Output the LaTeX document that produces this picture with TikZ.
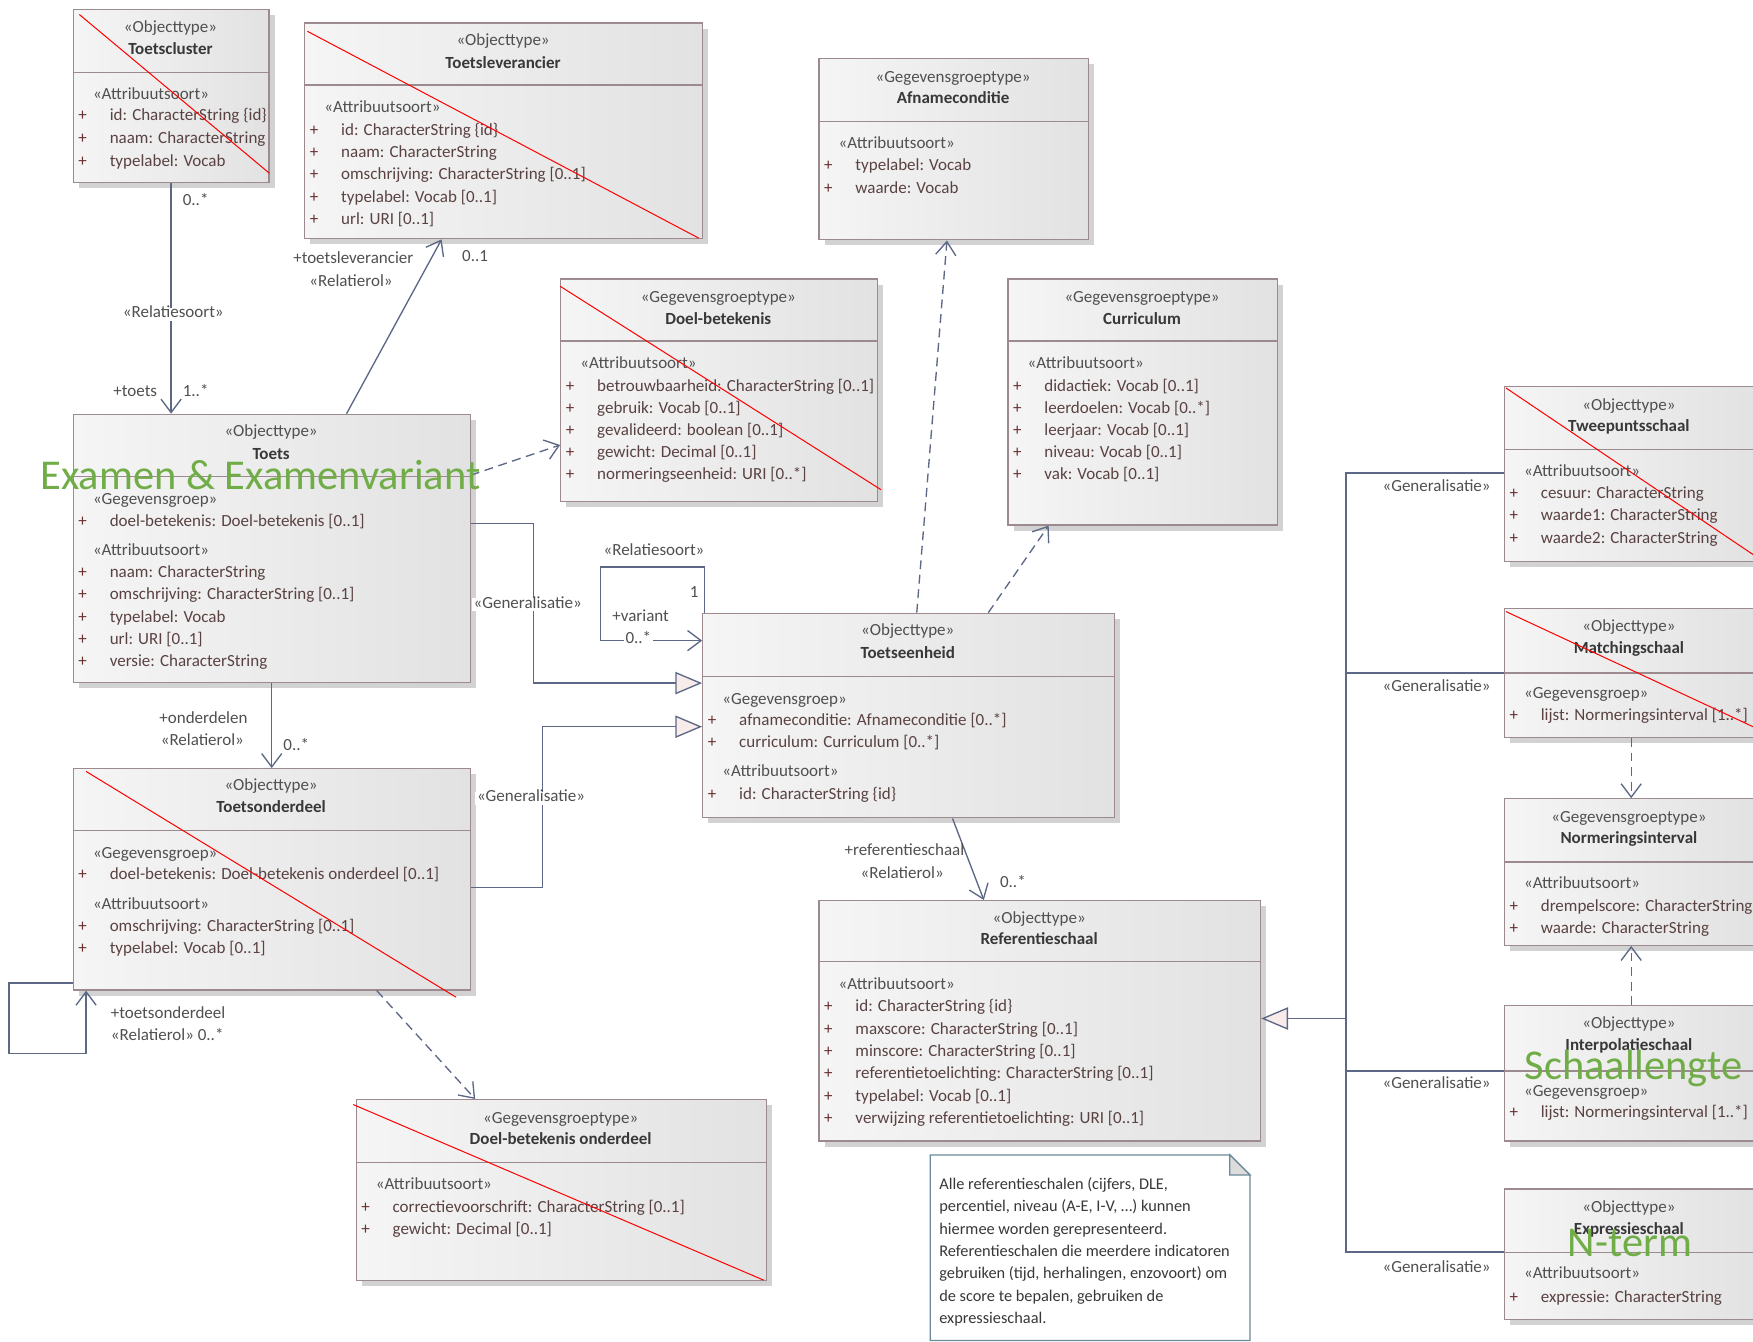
\documentclass[tikz,border=0pt]{standalone}
\usepackage{fontspec}
\setmainfont{Carlito}
\usetikzlibrary{arrows.meta,shadows,calc}
\definecolor{bord}{HTML}{9C8A8E}
\definecolor{boxL}{HTML}{F5F5F5}
\definecolor{boxR}{HTML}{E2E2E2}
\definecolor{shadowc}{HTML}{D2D2D2}
\definecolor{stc}{HTML}{505050}
\definecolor{ttc}{HTML}{383838}
\definecolor{atc}{HTML}{5A4242}
\definecolor{plc}{HTML}{6A2F2F}
\definecolor{conn}{HTML}{5C6886}
\definecolor{labc}{HTML}{505050}
\definecolor{grn}{HTML}{70AD47}
\definecolor{trif}{HTML}{F7ECE9}
\definecolor{notec}{HTML}{6B8A99}
\definecolor{foldc}{HTML}{DCDCDC}
\tikzset{
  umlbox/.style={draw=bord, line width=1.1pt, left color=boxL, right color=boxR,
    inner sep=0pt, anchor=north west,
    drop shadow={shadow xshift=5pt, shadow yshift=-5pt, fill=shadowc, opacity=1}},
  bordline/.style={draw=bord, line width=1.1pt},
  basefont/.style={font=\fontsize{15.2}{18}\selectfont, inner sep=0pt, text height=1.5ex, text depth=.3ex},
  st/.style={basefont, text=stc},
  tt/.style={basefont, text=ttc, font=\fontsize{15.2}{18}\selectfont\bfseries},
  ast/.style={basefont, text=stc, anchor=west},
  plus/.style={basefont, text=plc, anchor=west},
  attr/.style={basefont, text=atc, anchor=west},
  lab/.style={basefont, text=labc},
  wlab/.style={lab, fill=white, inner sep=1.5pt},
  cross/.style={draw=red, line width=0.9pt},
  grtext/.style={text=grn, font=\fontsize{38}{42}\selectfont, inner sep=0pt},
  conline/.style={draw=conn, line width=1.2pt},
  assoc/.style={conline, -{Straight Barb[length=12pt,width=18pt,line width=1.2pt]}},
  dep/.style={conline, dash pattern=on 8pt off 5pt, -{Straight Barb[length=12pt,width=18pt,line width=1.2pt]}},
  gen/.style={conline, -{Triangle[open,length=24pt,width=20pt,fill=trif,line width=1.2pt]}},
}
% box: name, x1, y1, x2, y2, ydiv
\newcommand{\umlbox}[6]{%
  \node[umlbox, minimum width={(#4-#2)*1pt}, minimum height={(#5-#3)*1pt}] (#1) at (#2,#3) {};
  \draw[bordline] (#2,#6) -- (#4,#6);}
% head: name, cx, ystereo, ytitle, stereotype, title
\newcommand{\umlhead}[6]{%
  \node[st] (#1-s) at (#2,#3) {«#5»};
  \node[tt] (#1-t) at (#2,#4) {#6};}
% compartment stereotype: name, xleft, y, text
\newcommand{\compst}[4]{\node[ast] (#1) at (#2+18,#3) {«#4»};}
% attributes: prefix, xleft, ystart, step, list
\newcommand{\attrlist}[5]{%
  \foreach \t [count=\i] in {#5} {
    \node[plus] (#1p\i) at (#2+5,{#3+(\i-1)*#4}) {+};
    \node[attr] (#1a\i) at (#2+33,{#3+(\i-1)*#4}) {\t};
  }}
\begin{document}
\begin{tikzpicture}[x=1pt,y=-1pt]
\useasboundingbox (0,0) rectangle (1568,1200);
\clip (0,0) rectangle (1568,1200);
\fill[white] (0,0) rectangle (1568,1200);

% ---------- boxes ----------
\umlbox{cluster}{65}{8}{240}{163}{65}
\umlhead{cluster}{152.5}{26}{46}{Objecttype}{Toetscluster}
\compst{cluster-c1}{65}{86}{Attribuutsoort}
\attrlist{cl}{65}{105}{20.5}{{id: CharacterString \{id\}},{naam: CharacterString},{typelabel: Vocab}}

\umlbox{lev}{272}{20}{628}{213}{76}
\umlhead{lev}{450}{38}{58}{Objecttype}{Toetsleverancier}
\compst{lev-c1}{272}{98}{Attribuutsoort}
\attrlist{lv}{272}{118}{20}{{id: CharacterString \{id\}},{naam: CharacterString},{omschrijving: CharacterString [0..1]},{typelabel: Vocab [0..1]},{url: URI [0..1]}}

\umlbox{afn}{732}{52}{973}{214}{109}
\umlhead{afn}{852.5}{71}{90}{Gegevensgroeptype}{Afnameconditie}
\compst{afn-c1}{732}{130}{Attribuutsoort}
\attrlist{af}{732}{150}{20}{{typelabel: Vocab},{waarde: Vocab}}

\umlbox{doel}{501}{249}{784}{448}{305}
\umlhead{doel}{642.5}{268}{287}{Gegevensgroeptype}{Doel-betekenis}
\compst{doel-c1}{501}{327}{Attribuutsoort}
\attrlist{db}{501}{347}{19.8}{{betrouwbaarheid: CharacterString [0..1]},{gebruik: Vocab [0..1]},{gevalideerd: boolean [0..1]},{gewicht: Decimal [0..1]},{normeringseenheid: URI [0..*]}}

\umlbox{curr}{901}{249}{1142}{469}{305}
\umlhead{curr}{1021.5}{268}{287}{Gegevensgroeptype}{Curriculum}
\compst{curr-c1}{901}{327}{Attribuutsoort}
\attrlist{cu}{901}{347}{19.8}{{didactiek: Vocab [0..1]},{leerdoelen: Vocab [0..*]},{leerjaar: Vocab [0..1]},{niveau: Vocab [0..1]},{vak: Vocab [0..1]}}

\umlbox{toets}{65}{370}{420}{610}{426}
\umlhead{toets}{242.5}{388}{408}{Objecttype}{Toets}
\compst{toets-c1}{65}{448}{Gegevensgroep}
\attrlist{tg}{65}{468}{20}{{doel-betekenis: Doel-betekenis [0..1]}}
\compst{toets-c2}{65}{494}{Attribuutsoort}
\attrlist{ta}{65}{514}{19.8}{{naam: CharacterString},{omschrijving: CharacterString [0..1]},{typelabel: Vocab},{url: URI [0..1]},{versie: CharacterString}}

\umlbox{onder}{65}{687}{420}{885}{743}
\umlhead{onder}{242.5}{704}{724}{Objecttype}{Toetsonderdeel}
\compst{onder-c1}{65}{765}{Gegevensgroep}
\attrlist{og}{65}{784}{20}{{doel-betekenis: Doel-betekenis onderdeel [0..1]}}
\compst{onder-c2}{65}{811}{Attribuutsoort}
\attrlist{oa}{65}{830}{20}{{omschrijving: CharacterString [0..1]},{typelabel: Vocab [0..1]}}

\umlbox{doelo}{318}{983}{685}{1145}{1040}
\umlhead{doelo}{501.5}{1002}{1021}{Gegevensgroeptype}{Doel-betekenis onderdeel}
\compst{doelo-c1}{318}{1061}{Attribuutsoort}
\attrlist{do}{318}{1082}{19.5}{{correctievoorschrift: CharacterString [0..1]},{gewicht: Decimal [0..1]}}

\umlbox{eenh}{628}{548}{996}{731}{605}
\umlhead{eenh}{812}{566}{586}{Objecttype}{Toetseenheid}
\compst{eenh-c1}{628}{627}{Gegevensgroep}
\attrlist{eg}{628}{646}{20}{{afnameconditie: Afnameconditie [0..*]},{curriculum: Curriculum [0..*]}}
\compst{eenh-c2}{628}{692}{Attribuutsoort}
\attrlist{ea}{628}{712}{20}{{id: CharacterString \{id\}}}

\umlbox{ref}{732}{805}{1127}{1020}{860}
\umlhead{ref}{929.5}{823}{842}{Objecttype}{Referentieschaal}
\compst{ref-c1}{732}{882}{Attribuutsoort}
\attrlist{rf}{732}{902}{20}{{id: CharacterString \{id\}},{maxscore: CharacterString [0..1]},{minscore: CharacterString [0..1]},{referentietoelichting: CharacterString [0..1]},{typelabel: Vocab [0..1]},{verwijzing referentietoelichting: URI [0..1]}}

\umlbox{twee}{1345}{345}{1572}{502}{402}
\umlhead{twee}{1457}{364}{383}{Objecttype}{Tweepuntsschaal}
\compst{twee-c1}{1345}{423}{Attribuutsoort}
\attrlist{tw}{1345}{443}{20}{{cesuur: CharacterString},{waarde1: CharacterString},{waarde2: CharacterString}}

\umlbox{match}{1345}{544}{1572}{659}{602}
\umlhead{match}{1457}{562}{582}{Objecttype}{Matchingschaal}
\compst{match-c1}{1345}{622}{Gegevensgroep}
\attrlist{ma}{1345}{642}{20}{{lijst: Normeringsinterval [1..*]}}

\umlbox{norm}{1345}{714}{1572}{845}{771}
\umlhead{norm}{1457}{733}{752}{Gegevensgroeptype}{Normeringsinterval}
\compst{norm-c1}{1345}{792}{Attribuutsoort}
\attrlist{no}{1345}{812}{20}{{drempelscore: CharacterString},{waarde: CharacterString}}

\umlbox{interp}{1345}{899}{1572}{1020}{958}
\umlhead{interp}{1457}{917}{937}{Objecttype}{Interpolatieschaal}
\compst{interp-c1}{1345}{978}{Gegevensgroep}
\attrlist{ip}{1345}{997}{20}{{lijst: Normeringsinterval [1..*]}}

\umlbox{expr}{1345}{1063}{1572}{1180}{1120}
\umlhead{expr}{1457}{1082}{1101}{Objecttype}{Expressieschaal}
\compst{expr-c1}{1345}{1141}{Attribuutsoort}
\attrlist{ex}{1345}{1162}{20}{{expressie: CharacterString}}

% ---------- note ----------
\filldraw[draw=notec, fill=white, line width=1.1pt] (832,1033) -- (1100,1033) -- (1118,1051) -- (1118,1199) -- (832,1199) -- cycle;
\filldraw[draw=notec, fill=foldc, line width=1.1pt] (1100,1033) -- (1100,1051) -- (1118,1051) -- cycle;
\node[anchor=north west, align=left, inner sep=0pt, text=ttc, font=\fontsize{14.6}{20}\selectfont] (note) at (840,1053)
 {Alle referentieschalen (cijfers, DLE,\\percentiel, niveau (A-E, I-V, \dots) kunnen\\hiermee worden gerepresenteerd.\\Referentieschalen die meerdere indicatoren\\gebruiken (tijd, herhalingen, enzovoort) om\\de score te bepalen, gebruiken de\\expressieschaal.};

% ---------- connectors ----------
% Toetscluster -> Toets
\draw[assoc] (cluster.south) -- (cluster.south |- toets.north);
\node[wlab] (l-rs1) at (155,281) {«Relatiesoort»};
\node[lab] (l-cl1) at (175,181) {0..*};
\node[lab] (l-cl2) at (121,352) {+toets};
\node[lab] (l-cl3) at (175,352) {1..*};
% Toets -> Toetsleverancier
\draw[assoc] ([xshift=245pt]toets.north west) -- ([xshift=123pt]lev.south west);
\node[lab] (l-lv1) at (316,233) {+toetsleverancier};
\node[lab] (l-lv2) at (314,253) {«Relatierol»};
\node[lab] (l-lv3) at (425,231) {0..1};
% Toets -> Doel-betekenis
\draw[dep] ([yshift=-55pt]toets.north east) -- ([yshift=-149pt]doel.north west);
% Toets -> Toetseenheid (generalisatie)
\draw[gen] ([yshift=-98pt]toets.north east) -- ++(56,0) |- ([yshift=-63pt]eenh.north west);
\node[wlab] (l-g1) at (472,541) {«Generalisatie»};
% Toetsonderdeel -> Toetseenheid (generalisatie)
\draw[gen] ([yshift=-107pt]onder.north east) -- ++(64,0) |- ([yshift=-102pt]eenh.north west);
\node[wlab] (l-g2) at (475,714) {«Generalisatie»};
% Toetseenheid variant loop
\draw[assoc] ([xshift=2pt]eenh.north west) -- ++(0,-41) -- ++(-93,0) -- ++(0,66) -- ([yshift=-25pt]eenh.north west);
\node[lab] (l-v1) at (585,494) {«Relatiesoort»};
\node[lab] (l-v2) at (621,532) {1};
\node[lab] (l-v3) at (573,553) {+variant};
\node[wlab] (l-v4) at (571,573) {0..*};
% Toets -> Toetsonderdeel
\draw[assoc] (toets.south) -- (onder.north);
\node[lab] (l-o1) at (182,644) {+onderdelen};
\node[lab] (l-o2) at (181,664) {«Relatierol»};
\node[lab] (l-o3) at (265,668) {0..*};
% Toetsonderdeel loop
\draw[assoc] ([yshift=7pt]onder.south west) -- ++(-57,0) -- ++(0,63) -- ++(69,0) -- ([xshift=12pt]onder.south west);
\node[lab, anchor=west] (l-t1) at (99,908) {+toetsonderdeel};
\node[lab, anchor=west] (l-t2) at (99,928) {«Relatierol» 0..*};
% Toetsonderdeel -> Doel-betekenis onderdeel
\draw[dep] ([xshift=272pt]onder.south west) -- ([xshift=107pt]doelo.north west);
% Toetseenheid -> Afnameconditie, Curriculum
\draw[dep] ([xshift=192pt]eenh.north west) -- ([xshift=115pt]afn.south west);
\draw[dep] ([xshift=256pt]eenh.north west) -- ([xshift=37pt]curr.south west);
% Toetseenheid -> Referentieschaal
\draw[assoc] ([xshift=224pt]eenh.south west) -- ([xshift=148pt]ref.north west);
\node[lab] (l-r1) at (809,762) {+referentieschaal};
\node[lab] (l-r2) at (807,783) {«Relatierol»};
\node[lab] (l-r3) at (906,791) {0..*};
% Generalisation tree to Referentieschaal
\draw[conline] ([yshift=-78pt]twee.north west) -| ([xshift=-141pt,yshift=-57pt]expr.north west) -- ([yshift=-57pt]expr.north west);
\draw[conline] ([yshift=-58pt]match.north west) -- ++(-141,0);
\draw[conline] ([yshift=-59pt]interp.north west) -- ++(-141,0);
\coordinate (gj) at (1204,911);
\draw[gen] (gj) -- (gj -| ref.east);
\node[lab] (l-gr1) at (1285,437) {«Generalisatie»};
\node[lab] (l-gr2) at (1285,616) {«Generalisatie»};
\node[lab] (l-gr3) at (1285,971) {«Generalisatie»};
\node[lab] (l-gr4) at (1285,1135) {«Generalisatie»};
% Normeringsinterval dependencies
\draw[dep] (match.south) -- (norm.north);
\draw[dep] (interp.north) -- (norm.south);

% ---------- red cross-outs ----------
\draw[cross] (71,13) -- (241,155);
\draw[cross] (275,28) -- (625,213);
\draw[cross] (501,256) -- (788,438);
\draw[cross] (77,690) -- (408,892);
\draw[cross] (316,988) -- (683,1145);
\draw[cross] (1347,347) -- (1568,496);
\draw[cross] (1347,547) -- (1568,650);

% ---------- green overlays ----------
\node[grtext] (g-exam) at (233,425) {Examen \& Examenvariant};
\node[grtext] (g-schaal) at (1461,956) {Schaallengte};
\node[grtext] (g-nterm) at (1458,1112) {N-term};
\end{tikzpicture}
\end{document}
